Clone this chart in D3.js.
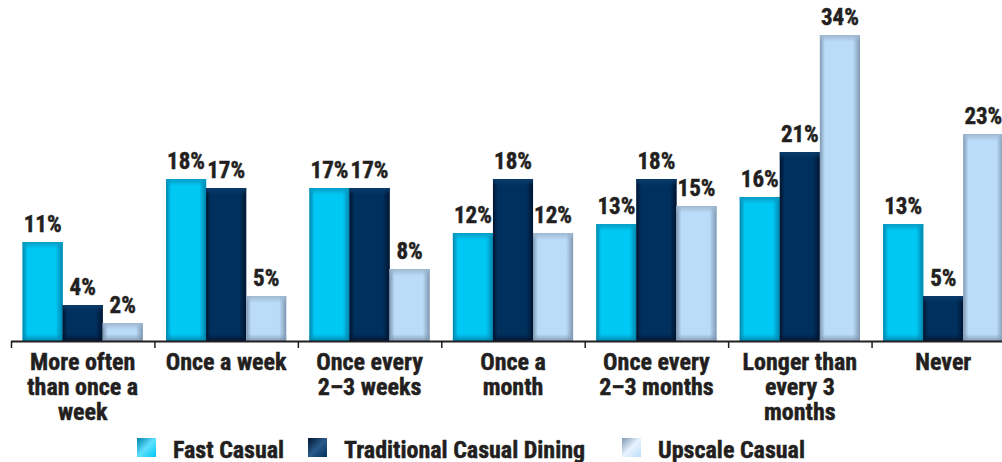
<!DOCTYPE html>
<html>
<head>
<meta charset="utf-8">
<script src="https://cdn.jsdelivr.net/npm/d3@7"></script>
<style>
  html, body { margin: 0; padding: 0; background: #fff; }
  svg { display: block; }
  text { font-family: "Liberation Sans Narrow", "Arial Narrow", "Roboto Condensed", sans-serif; font-weight: bold; fill: #231f20; stroke: #231f20; stroke-width: 0.45px; }
</style>
</head>
<body>
<svg id="chart" width="1002" height="462"></svg>
<script>
// Dining frequency by restaurant segment (percent of respondents)
const categories = [
  ["More often", "than once a", "week"],
  ["Once a week"],
  ["Once every", "2–3 weeks"],
  ["Once a", "month"],
  ["Once every", "2–3 months"],
  ["Longer than", "every 3", "months"],
  ["Never"]
];
const seriesNames = ["Fast Casual", "Traditional Casual Dining", "Upscale Casual"];
const fastCasual      = [11, 18, 17, 12, 13, 16, 13];
const traditional     = [4, 17, 17, 18, 18, 21, 5];
const upscaleCasual   = [2, 5, 8, 12, 15, 34, 23];
const seriesValues = [fastCasual, traditional, upscaleCasual];

// colour per series: body, edge shade, top band, swatch highlight
const palette = [
  { body: "#00c8f4", edge: "#0084ab", top: "#0a9cc4", light: "#5fe0ff" },
  { body: "#00305e", edge: "#001530", top: "#0c3c6c", light: "#2a5a8a" },
  { body: "#badcf8", edge: "#7f97b0", top: "#9fb8d0", light: "#e8f4ff" }
];

const svg = d3.select("#chart");
const defs = svg.append("defs");

const baseY = 341;
const catKeys = categories.map((c, i) => "c" + i);

const x0 = d3.scaleBand().domain(catKeys).range([11, 1015]).paddingInner(0).paddingOuter(0);
const x1 = d3.scaleBand().domain(d3.range(3)).range([0, x0.bandwidth()]).paddingInner(0).paddingOuter(0.29);
const y = d3.scaleLinear().domain([0, 34]).range([baseY, 35]);

// edge gradients for the bevelled bar look
palette.forEach((p, i) => {
  const mk = (id, x1g, y1g, x2g, y2g, stops) => {
    const g = defs.append("linearGradient").attr("id", id)
      .attr("x1", x1g).attr("y1", y1g).attr("x2", x2g).attr("y2", y2g);
    stops.forEach(s => g.append("stop").attr("offset", s[0]).attr("stop-color", s[1]).attr("stop-opacity", s[2]));
  };
  mk("left" + i, 0, 0, 1, 0, [[0, p.edge, 1], [1, p.edge, 0]]);
  mk("right" + i, 0, 0, 1, 0, [[0, p.edge, 0], [1, p.edge, 1]]);
  mk("top" + i, 0, 0, 0, 1, [[0, p.top, 1], [1, p.top, 0]]);
  mk("bottom" + i, 0, 0, 0, 1, [[0, p.edge, 0], [1, p.edge, 0.9]]);
  mk("sw" + i, 0, 0, 1, 1, [[0, p.edge, 1], [0.5, p.light, 1], [1, p.body, 1]]);
});

const bars = [];
seriesValues.forEach((vals, s) => {
  vals.forEach((v, c) => bars.push({ s, c, v }));
});

const barG = svg.append("g");
const g = barG.selectAll("g.bar").data(bars).join("g").attr("class", "bar");

const bx = d => x0(catKeys[d.c]) + x1(d.s);
const bw = x1.bandwidth();
const bh = d => baseY - y(d.v);

g.append("rect")
  .attr("x", bx).attr("y", d => y(d.v))
  .attr("width", bw).attr("height", bh)
  .attr("fill", d => palette[d.s].body);
g.append("rect")
  .attr("x", bx).attr("y", d => y(d.v))
  .attr("width", 5).attr("height", bh)
  .attr("fill", d => `url(#left${d.s})`);
g.append("rect")
  .attr("x", d => bx(d) + bw - 7).attr("y", d => y(d.v))
  .attr("width", 7).attr("height", bh)
  .attr("fill", d => `url(#right${d.s})`);
g.append("rect")
  .attr("x", bx).attr("y", d => y(d.v))
  .attr("width", bw).attr("height", d => Math.min(7, bh(d)))
  .attr("fill", d => `url(#top${d.s})`);
g.append("rect")
  .attr("x", bx).attr("y", d => baseY - Math.min(7, bh(d)))
  .attr("width", bw).attr("height", d => Math.min(7, bh(d)))
  .attr("fill", d => `url(#bottom${d.s})`);

// value labels
svg.append("g").selectAll("text").data(bars).join("text")
  .attr("x", d => bx(d) + bw / 2)
  .attr("y", d => y(d.v) - 10)
  .attr("text-anchor", "middle")
  .attr("font-size", 23)
  .text(d => d.v + "%");

// category axis
const axis = svg.append("g");
axis.append("line")
  .attr("x1", x0.range()[0]).attr("x2", x0.range()[1])
  .attr("y1", baseY + 0.5).attr("y2", baseY + 0.5)
  .attr("stroke", "#231f20").attr("stroke-width", 2);
axis.selectAll("line.tick").data(d3.range(catKeys.length + 1)).join("line")
  .attr("class", "tick")
  .attr("x1", i => x0.range()[0] + i * x0.step() + 0.5)
  .attr("x2", i => x0.range()[0] + i * x0.step() + 0.5)
  .attr("y1", baseY).attr("y2", baseY + 7)
  .attr("stroke", "#231f20").attr("stroke-width", 1.5);

const catLabels = axis.selectAll("text.cat").data(categories).join("text")
  .attr("class", "cat")
  .attr("text-anchor", "middle")
  .attr("font-size", 24)
  .attr("x", (d, i) => x0(catKeys[i]) + x0.bandwidth() / 2)
  .attr("y", 370);
catLabels.selectAll("tspan").data(d => d).join("tspan")
  .attr("x", function () { return d3.select(this.parentNode).attr("x"); })
  .attr("dy", (d, i) => i === 0 ? 0 : 25)
  .text(d => d);

// legend
const legendX = [137, 308, 622];
const legend = svg.append("g");
const li = legend.selectAll("g").data(seriesNames).join("g")
  .attr("transform", (d, i) => `translate(${legendX[i]},438)`);
li.append("rect").attr("width", 19).attr("height", 19)
  .attr("fill", (d, i) => `url(#sw${i})`);
li.append("text").attr("x", 36).attr("y", 20)
  .attr("font-size", 24)
  .text(d => d);
</script>
</body>
</html>
